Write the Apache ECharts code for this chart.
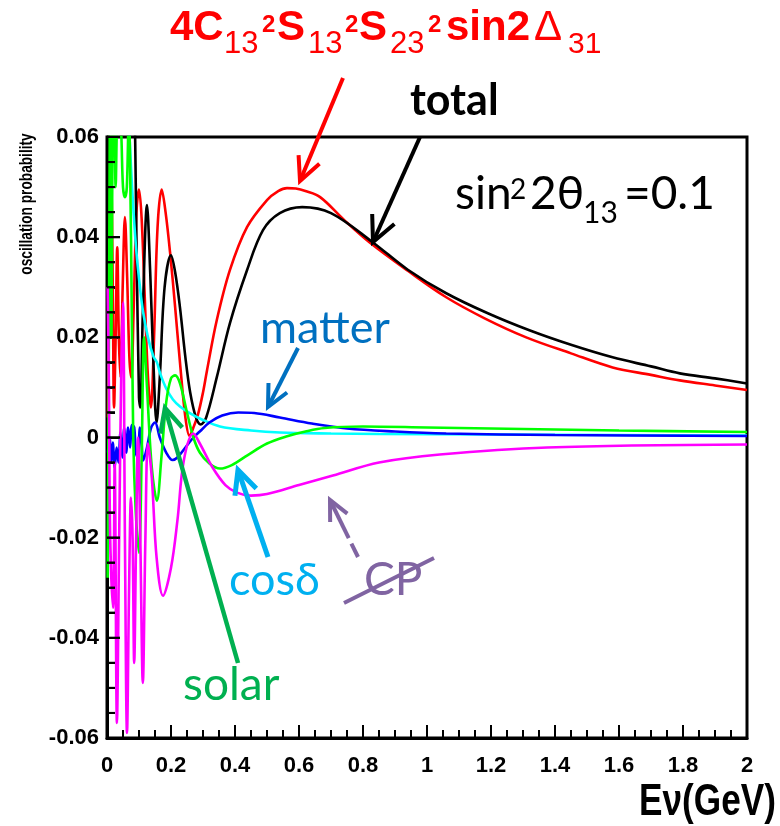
<!DOCTYPE html>
<html><head><meta charset="utf-8">
<script src="https://cdn.jsdelivr.net/npm/echarts@6/dist/echarts.min.js"></script>
<style>html,body{margin:0;padding:0;background:#fff}#c{width:780px;height:826px}</style>
</head><body><div id="c"></div>
<script>
// ---------------- data (E in GeV, probability) ----------------
const xTickValues = [0, 0.2, 0.4, 0.6, 0.8, 1, 1.2, 1.4, 1.6, 1.8, 2];
const xTickLabels = ['0', '0.2', '0.4', '0.6', '0.8', '1', '1.2', '1.4', '1.6', '1.8', '2'];
const yTickValues = [-0.06, -0.04, -0.02, 0, 0.02, 0.04, 0.06];
const yTickLabels = ['-0.06', '-0.04', '-0.02', '0', '0.02', '0.04', '0.06'];
const xMinorPerMajor = 4;   // minor tick every 0.05 GeV
const yMinorPerMajor = 4;   // minor tick every 0.005

const signalCurve = [[0.003,0.004],[0.008,0.038],[0.013,0.051],[0.018,0.03],[0.022,0.006],[0.027,0.02],[0.032,0.038],[0.037,0.02],[0.042,0.012],[0.049,0.03],[0.056,0.044],[0.063,0.032],[0.07,0.016],[0.076,0.012],[0.083,0.025],[0.092,0.045],[0.1,0.0495],[0.108,0.044],[0.118,0.028],[0.128,0.012],[0.137,0.006],[0.147,0.02],[0.158,0.042],[0.171,0.0495],[0.183,0.045],[0.197,0.037],[0.213,0.026],[0.228,0.015],[0.245,0.004],[0.258,0.0003],[0.27,0.002],[0.284,0.0045],[0.3,0.009],[0.3125,0.0134],[0.343,0.0234],[0.384,0.0334],[0.4375,0.042],[0.5,0.0474],[0.535,0.0492],[0.5625,0.0498],[0.59,0.0497],[0.62,0.0492],[0.666,0.048],[0.74,0.0435],[0.82,0.039],[0.94,0.0333],[1.06,0.028],[1.18,0.0238],[1.31,0.020],[1.45,0.0168],[1.58,0.014],[1.7,0.0125],[1.79,0.0114],[1.9,0.0104],[2.0,0.0095]];

const totalCurve = [[0.003,0.02],[0.008,0.08],[0.02,0.09],[0.04,0.09],[0.06,0.09],[0.075,0.085],[0.085,0.07],[0.092,0.04],[0.1,0.008],[0.104,0.006],[0.112,0.025],[0.125,0.0464],[0.135,0.033],[0.145,0.015],[0.155,0.003],[0.165,0.012],[0.18,0.03],[0.2,0.0364],[0.213,0.033],[0.228,0.026],[0.245,0.016],[0.26,0.009],[0.278,0.004],[0.293,0.0026],[0.31,0.004],[0.343,0.012],[0.384,0.0228],[0.4375,0.0334],[0.4875,0.0414],[0.54,0.0448],[0.61,0.046],[0.70,0.0448],[0.83,0.039],[0.94,0.0335],[1.06,0.0288],[1.19,0.0248],[1.32,0.0214],[1.45,0.0185],[1.58,0.016],[1.7,0.0142],[1.79,0.0128],[1.9,0.0118],[2.0,0.0108]];

const solarCurve = [[0.002,-0.028],[0.006,0.02],[0.01,0.07],[0.014,0.02],[0.018,0.065],[0.022,0.07],[0.027,0.05],[0.032,0.065],[0.038,0.07],[0.045,0.06],[0.05,0.05],[0.056,0.048],[0.062,0.05],[0.068,0.065],[0.075,0.04],[0.082,0.0],[0.09,-0.015],[0.1,-0.023],[0.108,-0.005],[0.116,0.02],[0.125,0.01],[0.14,-0.006],[0.156,-0.0126],[0.17,-0.004],[0.185,0.007],[0.2,0.0118],[0.213,0.0124],[0.228,0.0108],[0.25,0.005],[0.27,0.0],[0.29,-0.003],[0.32,-0.0052],[0.353,-0.0062],[0.39,-0.0055],[0.44,-0.0035],[0.5,-0.0012],[0.56,0.0002],[0.62,0.0012],[0.68,0.0019],[0.8,0.0022],[1.0,0.002],[1.3,0.0017],[1.6,0.0014],[2.0,0.0011]];

const cosDeltaCurve = [[0.062,0.075],[0.068,0.064],[0.075,0.054],[0.083,0.045],[0.092,0.037],[0.103,0.03],[0.113,0.025],[0.128,0.02],[0.145,0.0162],[0.156,0.015],[0.166,0.0128],[0.185,0.0098],[0.206,0.0076],[0.228,0.0062],[0.26,0.0048],[0.29,0.0038],[0.353,0.0022],[0.45,0.0014],[0.54,0.001],[0.7,0.0008],[0.85,0.0007],[1.2,0.0006],[1.6,0.0005],[2.0,0.0004]];

const matterCurve = [[0.003,-0.003],[0.008,0.0],[0.013,-0.005],[0.018,-0.001],[0.024,-0.006],[0.03,-0.002],[0.036,-0.005],[0.042,0.001],[0.048,-0.004],[0.054,0.002],[0.06,-0.003],[0.066,0.002],[0.072,-0.002],[0.078,0.0025],[0.085,0.002],[0.09,-0.003],[0.096,-0.004],[0.103,0.002],[0.108,-0.001],[0.113,-0.0046],[0.125,-0.002],[0.138,0.002],[0.15,0.003],[0.165,0.0],[0.185,-0.003],[0.205,-0.0045],[0.22,-0.004],[0.245,-0.002],[0.27,0.0],[0.29,0.0012],[0.32,0.003],[0.36,0.0044],[0.41,0.005],[0.46,0.0049],[0.54,0.004],[0.64,0.0028],[0.75,0.0018],[0.9,0.0012],[1.06,0.0008],[1.4,0.0005],[2.0,0.0003]];

const cpCurve = [[0.002,0.03],[0.006,0.01],[0.01,-0.02],[0.019,-0.034],[0.024,-0.005],[0.031,-0.057],[0.038,-0.02],[0.045,0.015],[0.05,0.027],[0.056,-0.02],[0.0625,-0.059],[0.069,-0.03],[0.075,-0.012],[0.08,-0.02],[0.085,-0.045],[0.091,-0.02],[0.097,0.0],[0.104,-0.02],[0.112,-0.049],[0.12,-0.02],[0.128,-0.0012],[0.14,-0.008],[0.155,-0.024],[0.175,-0.0316],[0.2,-0.026],[0.22,-0.0166],[0.24,-0.0046],[0.27,0.0008],[0.29,-0.0012],[0.33,-0.006],[0.37,-0.0095],[0.406,-0.011],[0.45,-0.0116],[0.5,-0.0113],[0.6,-0.0095],[0.706,-0.0076],[0.85,-0.005],[1.04,-0.0034],[1.375,-0.002],[2.0,-0.0014]];

// ---------------- chart ----------------
const chart = echarts.init(document.getElementById('c'), null, {renderer: 'canvas'});
const SANS = "'Liberation Sans',Arial,sans-serif";
const CAL = "Lato,'Open Sans',sans-serif";

const mctx = document.createElement('canvas').getContext('2d');
function midOffset(size, weight, family) {
  mctx.font = weight + ' ' + size + 'px ' + family;
  const m = mctx.measureText('Hg');
  if (m.fontBoundingBoxAscent !== undefined) return (m.fontBoundingBoxAscent - m.fontBoundingBoxDescent) / 2;
  return 0.35 * size;
}
function txt(text, x, baseline, size, weight, family, color, align, sx) {
  const y = baseline - midOffset(size, weight, family);
  return {type: 'text', x: x, y: y, z: 100, silent: true, scaleX: sx || 1,
    style: {text: text, fill: color, fontSize: size, fontWeight: weight, fontFamily: family,
      align: align || 'left', verticalAlign: 'middle', textAlign: align || 'left', textVerticalAlign: 'middle'}};
}
function seg(x1, y1, x2, y2, color, w, z) {
  return {type: 'line', z: z || 100, silent: true, shape: {x1, y1, x2, y2}, style: {stroke: color, lineWidth: w, lineCap: 'butt'}};
}
function arrow(x1, y1, x2, y2, color, w, headLen, dashed) {
  const a = Math.atan2(y2 - y1, x2 - x1), h = 0.45;
  const els = [];
  if (dashed) {
    const L = Math.hypot(x2 - x1, y2 - y1), ux = (x2 - x1) / L, uy = (y2 - y1) / L;
    els.push(seg(x1, y1, x1 + ux * 15, y1 + uy * 15, color, w));
    els.push(seg(x1 + ux * 21, y1 + uy * 21, x2, y2, color, w));
  } else els.push(seg(x1, y1, x2, y2, color, w));
  els.push({type: 'polyline', z: 100, silent: true,
    shape: {points: [[x2 - headLen * Math.cos(a - h), y2 - headLen * Math.sin(a - h)], [x2, y2],
                     [x2 - headLen * Math.cos(a + h), y2 - headLen * Math.sin(a + h)]]},
    style: {stroke: color, lineWidth: w, fill: null, lineJoin: 'miter'}});
  return els;
}

const RED = '#ff0000';
const graphics = [
  txt('4C', 170, 43, 42, 'bold', SANS, RED),
  txt('13', 224, 55, 31, 'normal', SANS, RED),
  txt('2', 262, 34, 24, 'bold', SANS, RED),
  txt('S', 277, 43, 42, 'bold', SANS, RED),
  txt('13', 308, 55, 31, 'normal', SANS, RED),
  txt('2', 345, 34, 24, 'bold', SANS, RED),
  txt('S', 359, 43, 42, 'bold', SANS, RED),
  txt('23', 390, 55, 31, 'normal', SANS, RED),
  txt('2', 428, 34, 24, 'bold', SANS, RED),
  txt('sin2', 446, 43, 42, 'bold', SANS, RED),
  txt('\u0394', 534, 43, 42, 'normal', SANS, RED),
  txt('31', 568, 55, 30, 'normal', SANS, RED),
  txt('total', 410, 118, 43, 'bold', CAL, '#000'),
  txt('sin', 455, 212, 46, 'normal', CAL, '#000'),
  txt('2', 510, 201, 28, 'normal', CAL, '#000'),
  txt('2\u03B8', 530, 212, 46, 'normal', CAL, '#000'),
  txt('13', 583, 225, 30, 'normal', CAL, '#000'),
  txt('=0.1', 624, 212, 46, 'normal', CAL, '#000'),
  txt('matter', 260, 345, 45, 'normal', CAL, '#0070C0'),
  txt('cos\u03B4', 229, 597, 45, 'normal', CAL, '#00B0F0'),
  txt('CP', 364, 598, 46, 'normal', CAL, '#8064A2'),
  seg(344, 603, 434, 558, '#8064A2', 4),
  txt('solar', 183, 703, 46, 'normal', CAL, '#00B050'),
  txt('E\u03BD(GeV)', 776, 818, 44, 'bold', SANS, '#000', 'right', 0.8),
  {type: 'text', x: 27, y: 204, rotation: Math.PI / 2, scaleX: 0.72, z: 100, silent: true,
   style: {text: 'oscillation probability', fill: '#000', fontSize: 19, fontWeight: 'bold', fontFamily: SANS,
     align: 'center', verticalAlign: 'middle', textAlign: 'center', textVerticalAlign: 'middle'}}
]
.concat(arrow(343, 78, 300, 181, RED, 4, 26))
.concat(arrow(420, 137, 373, 242, '#000', 4, 28))
.concat(arrow(298, 348, 268, 407, '#0070C0', 4, 24))
.concat(arrow(268, 557, 238, 470, '#00B0F0', 5, 26))
.concat(arrow(358, 557, 330, 500, '#8064A2', 4, 22, true))
.concat(arrow(238, 663, 165, 408, '#00B050', 4.5, 26));

// tick positions (value, major flag, direction 0 = bottom axis / 1 = left axis)
const tickData = [];
for (let i = 0; i < xTickValues.length; i++) {
  const last = i === xTickValues.length - 1;
  for (let k = 0; k < (last ? 1 : xMinorPerMajor); k++) {
    const v = last ? xTickValues[i] : xTickValues[i] + (xTickValues[i + 1] - xTickValues[i]) * k / xMinorPerMajor;
    tickData.push([v, yTickValues[0], k === 0 ? 1 : 0, 0]);
  }
}
for (let i = 0; i < yTickValues.length; i++) {
  const last = i === yTickValues.length - 1;
  for (let k = 0; k < (last ? 1 : yMinorPerMajor); k++) {
    const v = last ? yTickValues[i] : yTickValues[i] + (yTickValues[i + 1] - yTickValues[i]) * k / yMinorPerMajor;
    tickData.push([xTickValues[0], v, k === 0 ? 1 : 0, 1]);
  }
}

function mkSeries(name, data, color, z) {
  return {name, type: 'line', data, showSymbol: false, symbol: 'none', smooth: 0.35, clip: true,
    z: z, lineStyle: {color, width: 2.6}, itemStyle: {color}, emphasis: {disabled: true}, animation: false};
}
function lab(list, vals) {
  return function (v) {
    for (let i = 0; i < vals.length; i++) if (Math.abs(vals[i] - v) < 1e-9) return list[i];
    return '';
  };
}
function axisParts() {
  return {
    axisLine: {show: true, onZero: false, lineStyle: {color: '#000', width: 3}},
    axisTick: {show: true, inside: true, length: 13, lineStyle: {color: '#000', width: 2}},
    minorTick: {show: true, splitNumber: 4, length: 8, lineStyle: {color: '#000', width: 2}},
    splitLine: {show: false}, minorSplitLine: {show: false}
  };
}
const option = {
  animation: false,
  backgroundColor: '#fff',
  grid: {left: 107, right: 33, top: 137, bottom: 88, show: true, borderColor: '#000', borderWidth: 3,
         backgroundColor: 'transparent', containLabel: false, outerBoundsMode: 'none'},
  xAxis: Object.assign({type: 'value', min: 0, max: 2, interval: 0.2,
    axisLabel: {color: '#000', fontSize: 22, fontWeight: 'bold', fontFamily: SANS, margin: 17,
      formatter: lab(xTickLabels, xTickValues), showMinLabel: true, showMaxLabel: true}}, axisParts()),
  yAxis: Object.assign({type: 'value', min: -0.06, max: 0.06, interval: 0.02,
    axisLabel: {color: '#000', fontSize: 22, fontWeight: 'bold', fontFamily: SANS, margin: 8,
      formatter: lab(yTickLabels, yTickValues)}}, axisParts()),
  series: [
    mkSeries('4C13^2S13^2S23^2sin^2Δ31', signalCurve, '#ff0000', 2),
    mkSeries('total', totalCurve, '#000000', 3),
    mkSeries('cosδ', cosDeltaCurve, '#00ffff', 4),
    mkSeries('matter', matterCurve, '#0000ff', 5),
    mkSeries('solar', solarCurve, '#00ff00', 6),
    mkSeries('CP', cpCurve, '#ff00ff', 7),
    {name: 'ticks', type: 'custom', data: tickData, clip: false, silent: true, z: 20, animation: false,
     encode: {x: 0, y: 1}, tooltip: {show: false},
     renderItem: function (params, api) {
       const p = api.coord([api.value(0), api.value(1)]);
       const len = api.value(2) ? 13 : 8;
       const horiz = api.value(3) === 1;
       return {type: 'line', silent: true,
         shape: horiz ? {x1: p[0], y1: p[1], x2: p[0] + len, y2: p[1]} : {x1: p[0], y1: p[1], x2: p[0], y2: p[1] - len},
         style: {stroke: '#000', lineWidth: 2, fill: null}};
     }}
  ],
  graphic: graphics
};
chart.setOption(option);

// extra safety: the same ticks as graphic lines, positioned through the axes' scales
function pix(axis, v) {
  let r = chart.convertToPixel(axis === 'x' ? {xAxisIndex: 0} : {yAxisIndex: 0}, v);
  if (Array.isArray(r)) r = axis === 'x' ? r[0] : r[1];
  return r;
}
const tickEls = [];
const yB = pix('y', yTickValues[0]), xL = pix('x', xTickValues[0]);
if (isFinite(yB) && isFinite(xL)) {
  tickData.forEach(function (t) {
    const len = t[2] ? 13 : 8;
    if (t[3] === 0) { const px = pix('x', t[0]); if (isFinite(px)) tickEls.push(seg(px, yB, px, yB - len, '#000', 2, 150)); }
    else { const py = pix('y', t[1]); if (isFinite(py)) tickEls.push(seg(xL, py, xL + len, py, '#000', 2, 150)); }
  });
}
option.graphic = graphics.concat(tickEls);
chart.setOption(option, {notMerge: true});
</script></body></html>
